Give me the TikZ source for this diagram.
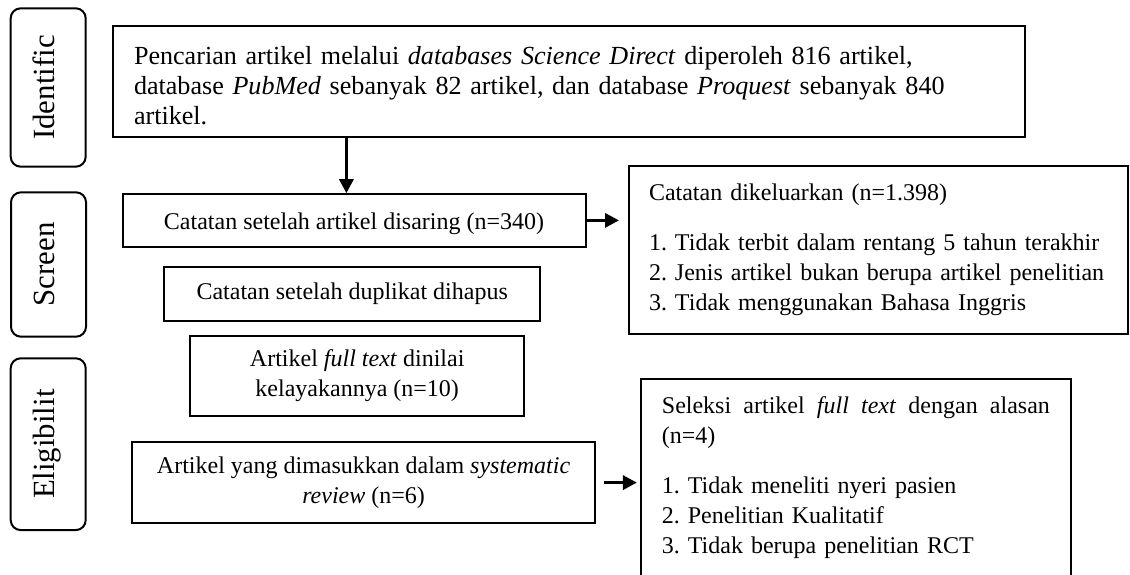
\documentclass[tikz,border=0pt]{standalone}
\usepackage{fontspec}
\setmainfont{Liberation Serif}
\usetikzlibrary{arrows.meta}
\usetikzlibrary{positioning}
\frenchspacing
\hyphenpenalty=10000
\exhyphenpenalty=10000
\tikzstyle{every node}+=[inner sep=0pt]
\tikzstyle{block} = [rectangle, draw, line width=1pt, font=\fontsize{12}{15}\selectfont, align=center, node distance=2cm]
\tikzstyle{note} = [block, align=left, inner xsep=10pt]
\tikzstyle{phase} = [rectangle, draw, line width=1pt, rounded corners=5pt, rotate=90, font=\fontsize{15.4}{18}\selectfont, minimum height=37.5pt, text height=10.5pt, text depth=4.5pt]
\tikzstyle{line} = [draw, line width=1.6pt, -{Triangle[length=7pt, width=7pt]}]

\begin{document}
\begin{tikzpicture}[x=0.5pt, y=-0.5pt]
  \useasboundingbox (0,0) rectangle (1130,574);
  % Place nodes
  \node [note, font=\fontsize{13.05}{15}\selectfont, text width=434.6pt, inner xsep=10.7pt, minimum height=55.5pt] (search) at (568.6,81.2) {\rule{0pt}{13pt}Pencarian artikel melalui \textit{databases Science Direct} diperoleh 816 artikel,\\database \textit{PubMed} sebanyak 82 artikel, dan database \textit{Proquest} sebanyak 840\\artikel.};
  \node [block, below of=search, node distance=69.6pt, xshift=-107.3pt, minimum width=231.5pt, minimum height=26.2pt, text height=12pt, text depth=2.5pt] (filtered) {Catatan setelah artikel disaring (n=340)};
  \node [block, below of=filtered, node distance=36.6pt, xshift=-0.9pt, minimum width=187.9pt, minimum height=27pt] (dup) {Catatan setelah duplikat dihapus};
  \node [block, below of=dup, node distance=41.1pt, xshift=2.5pt, minimum width=166.8pt, minimum height=40.2pt] (fulltext) {Artikel \textit{full text} dinilai\\kelayakannya (n=10)};
  \node [block, below of=fulltext, node distance=53.4pt, xshift=3.2pt, minimum width=231.7pt, minimum height=40.5pt] (included) {Artikel yang dimasukkan dalam \textit{systematic}\\\textit{review} (n=6)};
  \node [note, right of=filtered, node distance=262.25pt, yshift=-14.85pt, text width=229.5pt, minimum height=84.2pt] (excl1) {Catatan dikeluarkan (n=1.398)\\[10pt]1. Tidak terbit dalam rentang 5 tahun terakhir\\2. Jenis artikel bukan berupa artikel penelitian\\3. Tidak menggunakan Bahasa Inggris};
  \node [note, right of=included, node distance=246.15pt, yshift=2.4pt, text width=194pt, inner xsep=10.65pt, minimum height=99pt] (excl2) {\hbox to 194pt{Seleksi\hfill artikel\hfill \textit{full}\hfill \textit{text}\hfill dengan\hfill alasan}\\(n=4)\\[10pt]1. Tidak meneliti nyeri pasien\\2. Penelitian Kualitatif\\3. Tidak berupa penelitian RCT};
  \node [phase, minimum width=79.2pt] (ident) at (48.2,87.5) {Identific};
  \node [phase, minimum width=72.2pt] (screen) at (48.5,264.5) {Screen};
  \node [phase, minimum width=85.9pt] (elig) at (48.2,444.2) {Eligibilit};
  % Draw edges
  \path [line] ([xshift=-3.8pt]filtered.north |- search.south) -- ([xshift=-3.8pt]filtered.north);
  \path [line, shorten >=4.5pt] (filtered) -- (filtered -| excl1.west);
  \path [line, shorten <=3.85pt, shorten >=1.35pt] (included) -- (included -| excl2.west);
\end{tikzpicture}
\end{document}
